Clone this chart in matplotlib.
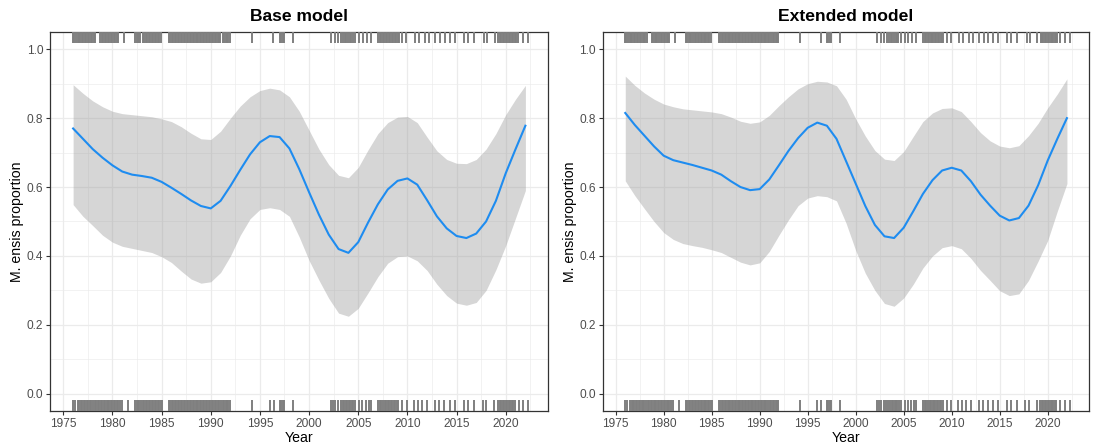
import matplotlib
matplotlib.use("Agg")
import matplotlib.pyplot as plt
import matplotlib.transforms as mtransforms

plt.rcParams['font.family'] = ['Liberation Sans', 'DejaVu Sans']

# Smoothed fit and confidence band, one value per year
years = list(range(1976, 2023))

base_fit = [0.770, 0.740, 0.710, 0.685, 0.663, 0.645, 0.636, 0.632, 0.627, 0.615,
            0.598, 0.580, 0.561, 0.545, 0.538, 0.560, 0.603, 0.650, 0.695, 0.730,
            0.748, 0.745, 0.712, 0.652, 0.585, 0.520, 0.462, 0.420, 0.409, 0.440,
            0.497, 0.550, 0.593, 0.618, 0.625, 0.607, 0.562, 0.515, 0.480, 0.458,
            0.452, 0.465, 0.500, 0.560, 0.640, 0.710, 0.778]
base_upper = [0.897, 0.872, 0.850, 0.833, 0.820, 0.813, 0.810, 0.807, 0.804, 0.798,
              0.790, 0.775, 0.756, 0.740, 0.738, 0.762, 0.800, 0.835, 0.862, 0.880,
              0.887, 0.882, 0.862, 0.820, 0.765, 0.710, 0.665, 0.634, 0.627, 0.657,
              0.708, 0.755, 0.787, 0.803, 0.805, 0.787, 0.745, 0.705, 0.680, 0.669,
              0.668, 0.680, 0.710, 0.755, 0.810, 0.855, 0.895]
base_lower = [0.549, 0.515, 0.488, 0.460, 0.440, 0.428, 0.422, 0.416, 0.410, 0.398,
              0.381, 0.356, 0.333, 0.321, 0.325, 0.352, 0.400, 0.460, 0.508, 0.535,
              0.540, 0.535, 0.515, 0.455, 0.387, 0.330, 0.277, 0.234, 0.225, 0.248,
              0.293, 0.340, 0.379, 0.398, 0.400, 0.386, 0.358, 0.318, 0.285, 0.263,
              0.257, 0.265, 0.300, 0.360, 0.430, 0.510, 0.590]

ext_fit = [0.815, 0.780, 0.749, 0.718, 0.691, 0.678, 0.671, 0.664, 0.656, 0.648,
           0.636, 0.617, 0.600, 0.591, 0.594, 0.622, 0.663, 0.705, 0.742, 0.772,
           0.787, 0.778, 0.740, 0.675, 0.610, 0.545, 0.490, 0.457, 0.452, 0.482,
           0.530, 0.580, 0.620, 0.648, 0.656, 0.648, 0.617, 0.578, 0.546, 0.517,
           0.503, 0.510, 0.546, 0.605, 0.677, 0.740, 0.800]
ext_upper = [0.922, 0.895, 0.873, 0.855, 0.841, 0.833, 0.827, 0.824, 0.821, 0.818,
             0.813, 0.803, 0.791, 0.785, 0.789, 0.808, 0.836, 0.862, 0.885, 0.900,
             0.907, 0.905, 0.894, 0.855, 0.798, 0.748, 0.706, 0.681, 0.677, 0.703,
             0.747, 0.790, 0.815, 0.828, 0.830, 0.819, 0.790, 0.758, 0.734, 0.719,
             0.714, 0.720, 0.749, 0.785, 0.830, 0.870, 0.914]
ext_lower = [0.618, 0.575, 0.537, 0.500, 0.468, 0.448, 0.436, 0.430, 0.425, 0.418,
             0.410, 0.396, 0.382, 0.374, 0.380, 0.413, 0.460, 0.505, 0.546, 0.568,
             0.575, 0.572, 0.560, 0.495, 0.416, 0.350, 0.300, 0.262, 0.254, 0.278,
             0.318, 0.365, 0.400, 0.424, 0.430, 0.421, 0.393, 0.358, 0.329, 0.299,
             0.285, 0.290, 0.329, 0.385, 0.445, 0.530, 0.610]

# Sampling dates (decimal years) of presences (top rug) and absences (bottom rug)
rug_present = [
    1976.00, 1976.12, 1976.25, 1976.45, 1976.60, 1976.75, 1976.90,
    1977.05, 1977.20, 1977.35, 1977.50, 1977.65, 1977.80, 1977.95, 1978.10, 1978.25,
    1978.75, 1978.90, 1979.05, 1979.20, 1979.35, 1979.50,
    1979.70, 1979.85, 1980.00, 1980.15, 1980.30, 1980.45, 1980.60,
    1981.20,
    1982.30, 1982.45, 1982.60, 1982.75, 1982.85,
    1983.10, 1983.25, 1983.40, 1983.55, 1983.70, 1983.85, 1984.00, 1984.15,
    1984.30, 1984.45, 1984.60, 1984.75, 1984.90,
    1985.75, 1985.90, 1986.05, 1986.20, 1986.35, 1986.50, 1986.65, 1986.80,
    1986.95, 1987.10, 1987.25, 1987.40, 1987.55, 1987.70, 1987.85, 1988.00,
    1988.15, 1988.30, 1988.45, 1988.60, 1988.75, 1988.90, 1989.05, 1989.20,
    1989.35, 1989.50, 1989.65, 1989.80, 1989.95, 1990.10, 1990.25, 1990.40,
    1990.55, 1990.70, 1990.85, 1990.95,
    1991.20, 1991.35, 1991.50, 1991.65, 1991.80, 1991.95,
    1994.20, 1996.35, 1997.00, 1997.10, 1997.30, 1997.45, 1998.40,
    2002.25, 2002.60, 2002.95, 2003.25, 2003.45, 2003.65, 2003.80, 2003.95,
    2004.15, 2004.30, 2004.45, 2004.72, 2005.10, 2005.50, 2005.85, 2006.30,
    2007.05, 2007.20, 2007.35, 2007.50, 2007.65, 2007.80, 2007.95, 2008.10,
    2008.25, 2008.40, 2008.55, 2008.70, 2008.85, 2009.00, 2009.10,
    2009.50, 2009.90, 2010.75, 2011.20, 2011.82, 2012.22, 2012.85, 2013.32,
    2013.78, 2014.30, 2014.82, 2015.80, 2016.20, 2016.78, 2017.80, 2018.12, 2018.86,
    2019.25, 2019.40, 2019.55, 2019.70, 2019.85, 2020.00, 2020.15, 2020.30,
    2020.45, 2020.60, 2020.75, 2020.90, 2021.00,
    2021.28, 2021.78, 2022.30,
]
rug_absent = [
    1976.00, 1976.15, 1976.50, 1976.65, 1976.80, 1976.95,
    1977.10, 1977.25, 1977.40, 1977.55, 1977.70, 1977.85, 1978.00, 1978.20,
    1978.35, 1978.50, 1978.65, 1978.80, 1978.95, 1979.10, 1979.25, 1979.40,
    1979.55, 1979.70, 1979.85, 1980.00, 1980.15, 1980.30, 1980.45, 1980.60, 1980.75,
    1981.00, 1981.55,
    1982.30, 1982.45, 1982.60, 1982.75, 1982.90,
    1983.10, 1983.25, 1983.40, 1983.55, 1983.70, 1983.85, 1984.00, 1984.15,
    1984.30, 1984.45, 1984.60, 1984.75, 1984.90, 1985.00,
    1985.75, 1985.90, 1986.05, 1986.20, 1986.35, 1986.50, 1986.65, 1986.80,
    1986.95, 1987.10, 1987.25, 1987.40, 1987.55, 1987.70, 1987.85, 1988.00,
    1988.15, 1988.30, 1988.45, 1988.60, 1988.75, 1988.90, 1989.05, 1989.20,
    1989.35, 1989.50, 1989.65, 1989.80, 1989.95, 1990.10, 1990.25, 1990.40,
    1990.55, 1990.70, 1990.85,
    1991.05, 1991.20, 1991.35, 1991.50, 1991.65, 1991.80, 1991.95,
    1994.15, 1996.00, 1996.40, 1997.00, 1997.15, 1997.30, 1997.45, 1998.40,
    2002.20, 2002.45, 2002.65, 2002.90, 2003.20, 2003.40, 2003.60, 2003.75,
    2003.90, 2004.05, 2004.20, 2004.35, 2004.50, 2004.70, 2005.10, 2005.40,
    2005.75, 2006.05, 2006.30,
    2007.05, 2007.20, 2007.35, 2007.55, 2007.70, 2007.85, 2008.00, 2008.15,
    2008.30, 2008.45, 2008.60, 2008.75, 2008.90, 2009.05,
    2009.50, 2009.95, 2010.70, 2011.10, 2011.50, 2012.00, 2012.85, 2013.25,
    2013.75, 2014.30, 2014.80, 2015.80, 2016.20, 2016.75, 2017.65, 2018.00, 2018.85,
    2019.20, 2019.40, 2019.55, 2019.70, 2019.85, 2020.00, 2020.15, 2020.30,
    2020.45, 2020.60, 2020.75, 2020.90,
    2021.30, 2021.80, 2022.30,
]

x_ticks = [1975, 1980, 1985, 1990, 1995, 2000, 2005, 2010, 2015, 2020]
x_minor = [1977.5, 1982.5, 1987.5, 1992.5, 1997.5, 2002.5, 2007.5, 2012.5, 2017.5, 2022.5]
y_ticks = [0.0, 0.2, 0.4, 0.6, 0.8, 1.0]
y_labels = ['0.0', '0.2', '0.4', '0.6', '0.8', '1.0']
y_minor = [0.1, 0.3, 0.5, 0.7, 0.9]

W, H = 1093, 448
fig = plt.figure(figsize=(W / 100, H / 100), dpi=100)
fig.patch.set_facecolor('white')
ax1 = fig.add_axes([50 / W, 37 / H, 498 / W, 379 / H])
ax2 = fig.add_axes([602.7 / W, 37 / H, 486.3 / W, 379 / H])

GRID = '#ebebeb'
DARK = '#333333'


def draw_panel(ax, title, fit, lower, upper):
    ax.set_facecolor('white')
    ax.fill_between(years, lower, upper, color='#999999', alpha=0.4, lw=0, zorder=2)
    ax.plot(years, fit, color='#1E8CF0', lw=1.5, zorder=3,
            solid_joinstyle='round')
    trans = mtransforms.blended_transform_factory(ax.transData, ax.transAxes)
    ax.vlines(rug_present, 0.97, 1.0, transform=trans, color='#7f7f7f', lw=1.4, zorder=4)
    ax.vlines(rug_absent, 0.0, 0.03, transform=trans, color='#7f7f7f', lw=1.4, zorder=4)

    ax.set_xlim(1973.65, 2024.3)
    ax.set_ylim(-0.05, 1.05)
    ax.set_xticks(x_ticks)
    ax.set_xticks(x_minor, minor=True)
    ax.set_yticks(y_ticks)
    ax.set_yticklabels(y_labels)
    ax.set_yticks(y_minor, minor=True)
    ax.set_axisbelow(True)
    ax.grid(which='major', color=GRID, lw=0.9, zorder=0)
    ax.grid(which='minor', color=GRID, lw=0.45, zorder=0)
    ax.tick_params(which='minor', length=0)
    ax.tick_params(which='major', length=3, width=0.8, color=DARK,
                   labelcolor='#4d4d4d', labelsize=8.6, pad=2)
    for s in ax.spines.values():
        s.set_color(DARK)
        s.set_linewidth(0.9)
    ax.set_title(title, fontsize=12.6, fontweight='bold', pad=8)
    ax.set_xlabel('Year', fontsize=10.2, labelpad=1)
    ax.set_ylabel('M. ensis proportion', fontsize=10.2, labelpad=1.5)


draw_panel(ax1, 'Base model', base_fit, base_lower, base_upper)
draw_panel(ax2, 'Extended model', ext_fit, ext_lower, ext_upper)

fig.savefig('out.png', dpi=100, facecolor='white')
